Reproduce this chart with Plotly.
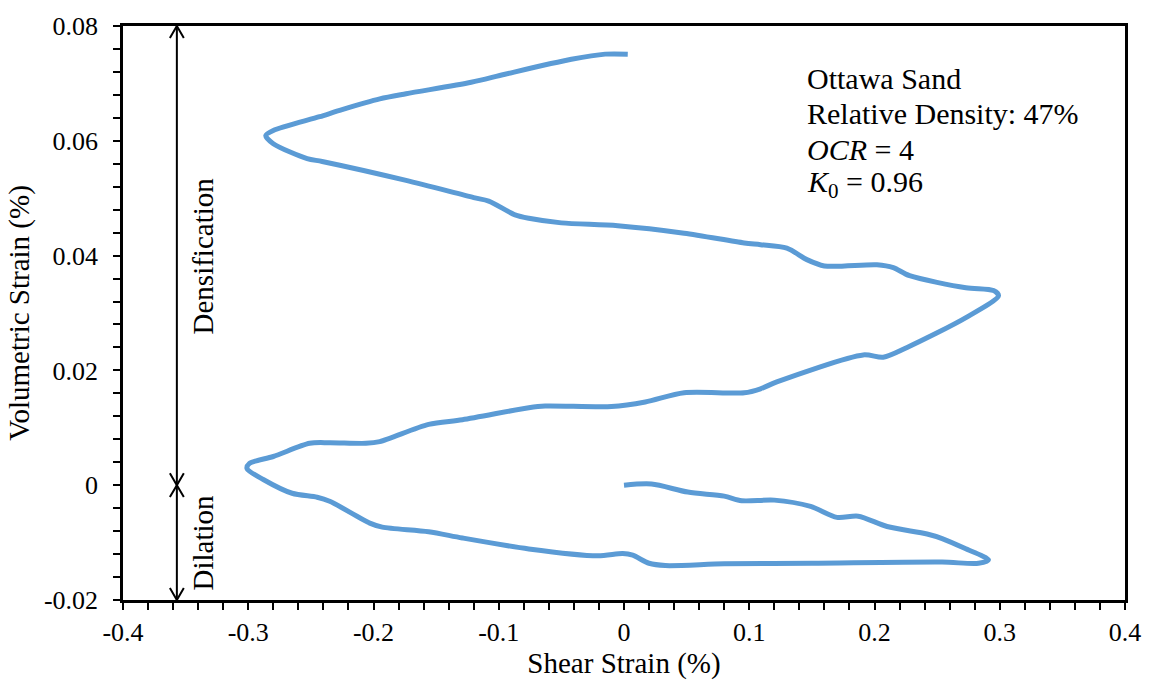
import plotly.graph_objects as go

# Data (shear strain %, volumetric strain %)
shear_strain = [
    0.000, 0.022, 0.051, 0.080, 0.094, 0.120, 0.149, 0.170, 0.187, 0.210,
    0.242, 0.254, 0.272, 0.291, 0.283, 0.254, 0.150, 0.080, 0.033, 0.020,
    0.007, -0.001, -0.021, -0.076, -0.129, -0.156, -0.193, -0.203, -0.235, -0.245,
    -0.265, -0.288, -0.301, -0.299, -0.280, -0.251, -0.235, -0.206, -0.195, -0.156,
    -0.129, -0.076, -0.063, -0.010, 0.017, 0.048, 0.096, 0.109, 0.122, 0.191,
    0.207, 0.226, 0.273, 0.299, 0.295, 0.273, 0.228, 0.215, 0.202, 0.160,
    0.146, 0.130, 0.109, 0.096, 0.048, -0.005, -0.050, -0.076, -0.087, -0.108,
    -0.120, -0.174, -0.241, -0.253, -0.280, -0.286, -0.280, -0.243, -0.227, -0.195,
    -0.174, -0.122, -0.095, -0.042, -0.015, 0.003,
]
volumetric_strain = [
    0.0000, 0.0002, -0.0012, -0.0019, -0.0027, -0.0026, -0.0037, -0.0056, -0.0054, -0.0072,
    -0.0085, -0.0093, -0.0110, -0.0130, -0.0136, -0.0134, -0.0136, -0.0137, -0.0140, -0.0136,
    -0.0122, -0.0119, -0.0123, -0.0111, -0.0092, -0.0081, -0.0073, -0.0066, -0.0028, -0.0021,
    -0.0014, 0.0010, 0.0029, 0.0038, 0.0050, 0.0073, 0.0074, 0.0073, 0.0076, 0.0106,
    0.0114, 0.0135, 0.0138, 0.0137, 0.0145, 0.0161, 0.0161, 0.0168, 0.0180, 0.0227,
    0.0223, 0.0240, 0.0292, 0.0330, 0.0339, 0.0344, 0.0365, 0.0379, 0.0384, 0.0382,
    0.0393, 0.0413, 0.0419, 0.0422, 0.0439, 0.0452, 0.0457, 0.0465, 0.0471, 0.0495,
    0.0501, 0.0531, 0.0564, 0.0569, 0.0595, 0.0609, 0.0618, 0.0642, 0.0653, 0.0673,
    0.0682, 0.0702, 0.0716, 0.0742, 0.0751, 0.0751,
]

x_tick_vals = [-0.4, -0.3, -0.2, -0.1, 0.0, 0.1, 0.2, 0.3, 0.4]
x_tick_text = ["-0.4", "-0.3", "-0.2", "-0.1", "0", "0.1", "0.2", "0.3", "0.4"]
y_tick_vals = [-0.02, 0.0, 0.02, 0.04, 0.06, 0.08]
y_tick_text = ["-0.02", "0", "0.02", "0.04", "0.06", "0.08"]

x_range = [-0.4, 0.4]
y_range = [-0.02, 0.08]

arrow_x = -0.357
dens_range = [0.0, 0.08]
dil_range = [0.0, -0.02]

info_lines = ["Ottawa Sand", "Relative Density: 47%", "<i>OCR</i> = 4", "<i>K</i><sub>0</sub> = 0.96"]

W, H = 1153, 686
ML, MR, MT, MB = 123, 23, 22, 86
FONT = "Liberation Serif"

fig = go.Figure()
fig.add_trace(go.Scatter(
    x=shear_strain, y=volumetric_strain, mode="lines",
    line=dict(color="#5B9BD5", width=5, shape="spline", smoothing=0.8),
    showlegend=False, hoverinfo="skip",
))

# arrow geometry in pixel units converted to data units
px_w = W - ML - MR
px_h = H - MT - MB
dx_per_px = (x_range[1] - x_range[0]) / px_w
dy_per_px = (y_range[1] - y_range[0]) / px_h
head_half_w = 7 * dx_per_px
head_len = 12 * dy_per_px

shapes = []
arrow_style = dict(color="black", width=2)
for a, b in (dens_range, dil_range):
    shapes.append(dict(type="line", xref="x", yref="y", x0=arrow_x, x1=arrow_x,
                       y0=a, y1=b, line=arrow_style))
    for end, other in ((a, b), (b, a)):
        sign = 1 if other > end else -1
        path = (f"M {arrow_x - head_half_w},{end + sign * head_len} "
                f"L {arrow_x},{end} L {arrow_x + head_half_w},{end + sign * head_len}")
        shapes.append(dict(type="path", xref="x", yref="y", path=path, line=arrow_style))

annotations = [
    dict(x=arrow_x, y=sum(dens_range) / 2, xref="x", yref="y", text="Densification",
         textangle=-90, showarrow=False, xshift=26, font=dict(family=FONT, size=29, color="black")),
    dict(x=arrow_x, y=sum(dil_range) / 2, xref="x", yref="y", text="Dilation",
         textangle=-90, showarrow=False, xshift=26, font=dict(family=FONT, size=29, color="black")),
]
info_y_px = [75, 110, 146, 181]
for t, yy in zip(info_lines, info_y_px):
    annotations.append(dict(x=(808 - ML) / px_w, y=(H - MB - yy) / px_h,
                            xref="x domain", yref="y domain", text=t,
                            xanchor="left", yanchor="middle", showarrow=False,
                            font=dict(family=FONT, size=30, color="black")))

fig.update_layout(
    width=W, height=H,
    margin=dict(l=ML, r=MR, t=MT, b=MB),
    paper_bgcolor="white", plot_bgcolor="white",
    font=dict(family=FONT, size=26, color="black"),
    shapes=shapes, annotations=annotations,
)
axis_common = dict(showgrid=False, zeroline=False, showline=True, linecolor="black",
                   linewidth=2.5, mirror=True, ticks="outside", ticklen=7, tickwidth=2,
                   tickcolor="black", tickfont=dict(family=FONT, size=26, color="black"))
fig.update_xaxes(range=x_range, tickmode="array", tickvals=x_tick_vals, ticktext=x_tick_text,
                 minor=dict(ticks="outside", dtick=0.02, tick0=0, ticklen=7, tickwidth=2, tickcolor="black"),
                 title=dict(text="Shear Strain (%)", font=dict(family=FONT, size=29, color="black"), standoff=4),
                 **axis_common)
fig.update_yaxes(range=y_range, tickmode="array", tickvals=y_tick_vals, ticktext=y_tick_text,
                 ticklabelstandoff=10,
                 minor=dict(ticks="outside", dtick=0.004, tick0=0, ticklen=7, tickwidth=2, tickcolor="black"),
                 title=dict(text="Volumetric Strain (%)", font=dict(family=FONT, size=29, color="black"), standoff=6),
                 **axis_common)

fig.write_html("out.html")
